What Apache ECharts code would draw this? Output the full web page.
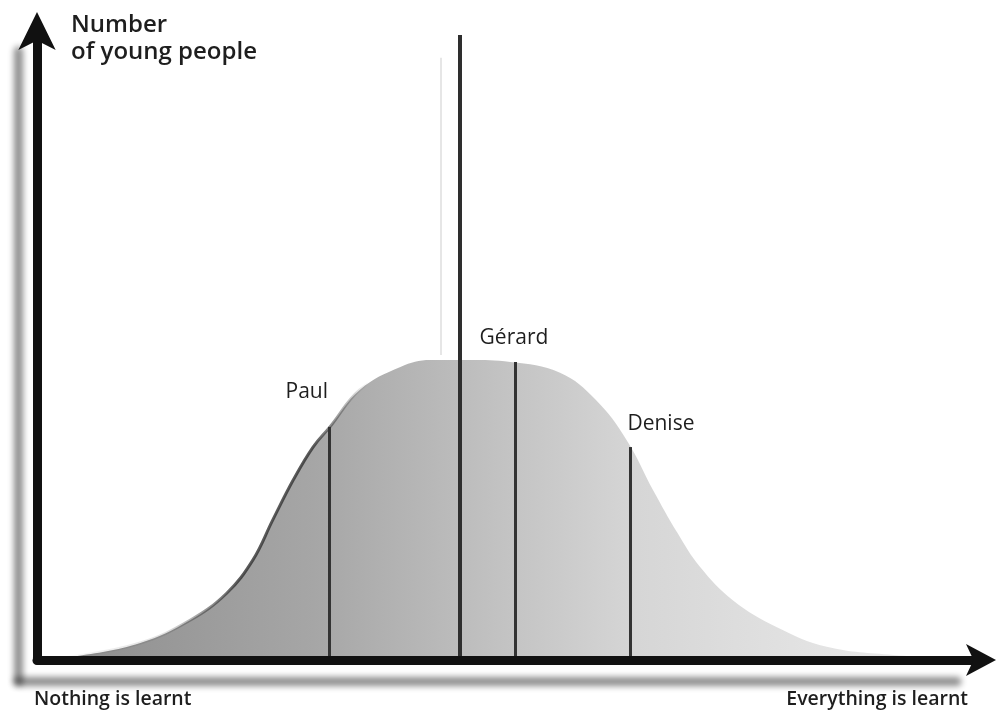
<!DOCTYPE html>
<html>
<head>
<meta charset="utf-8">
<script src="https://cdn.jsdelivr.net/npm/echarts@6/dist/echarts.min.js"></script>
<style>
  html, body { margin: 0; padding: 0; background: #fff; }
  #main { width: 996px; height: 716px; }
</style>
</head>
<body>
<div id="main"></div>
<script>
// curve: how much is learnt (0-100) vs number of young people (0-100)
var learnt = [0, 3.8, 11.0, 16.3, 20.2, 23.0, 25.1, 27.3, 29.4, 31.2, 34.4, 38.7, 41.9, 46.1, 50.4, 55.7, 59.5, 62.8, 65.6, 68.2, 70.6, 74.1, 78.8, 84.1, 91.2, 98.3];
var people = [0, 0.5, 2.7, 6.3, 10.6, 15.9, 22.2, 28.6, 33.8, 37.0, 42.9, 46.5, 47.6, 47.6, 47.3, 45.6, 41.3, 34.9, 27.0, 20.2, 14.8, 9.5, 5.2, 2.1, 0.8, 0.2];

// pupils marked on the curve
var names = ['Paul', 'Gérard', 'Denise'];
var namesX = [31.1, 50.9, 63.2];
var namesTop = [37.0, 47.3, 33.8];

// tall line in the middle and its faint shadow
var meanX = 45.0;
var meanTop = 99.2;
var ghostX = 43.0;
var ghostRange = [48.4, 95.6];

var yTitle = ['Number', 'of young people'];
var xEnds = ['Nothing is learnt', 'Everything is learnt'];

var chart = echarts.init(document.getElementById('main'), null, { renderer: 'canvas' });

var curveData = learnt.map(function (x, i) { return [x, people[i]]; });

// label positions per pupil
var labelStyle = {
  'Paul':   { align: 'right', offset: [-1, -19] },
  'Gérard': { align: 'center', offset: [-1, -8] },
  'Denise': { align: 'left', offset: [-3, -8] }
};

var markLines = namesX.map(function (x, i) {
  return [{ coord: [x, 0] }, { coord: [x, namesTop[i]] }];
});
markLines.push([{ coord: [meanX, 0], lineStyle: { width: 4, color: '#2e2e2e' } }, { coord: [meanX, meanTop] }]);
markLines.push([{ coord: [ghostX, ghostRange[0]], lineStyle: { width: 2, color: '#e6e6e6' } }, { coord: [ghostX, ghostRange[1]] }]);

var axisShadow = {
  color: '#111',
  width: 9,
  shadowColor: 'rgba(0,0,0,0.45)',
  shadowBlur: 6,
  shadowOffsetX: -19,
  shadowOffsetY: 21
};

var option = {
  backgroundColor: '#fff',
  animation: false,
  grid: { left: 37, right: 20, top: 30, bottom: 56 },
  xAxis: {
    type: 'value', min: 0, max: 100, z: 5,
    axisLine: { show: true, onZero: false, symbol: ['none', 'arrow'], symbolSize: [24, 30], symbolOffset: [0, 20], lineStyle: axisShadow },
    axisTick: { show: false }, axisLabel: { show: false }, splitLine: { show: false }
  },
  yAxis: {
    type: 'value', min: 0, max: 100, z: 5,
    axisLine: { show: true, onZero: false, symbol: ['none', 'arrow'], symbolSize: [28, 38], symbolOffset: [0, 18], lineStyle: axisShadow },
    axisTick: { show: false }, axisLabel: { show: false }, splitLine: { show: false }
  },
  series: [
    {
      type: 'line',
      data: curveData,
      smooth: 0.4,
      symbol: 'none',
      z: 2,
      lineStyle: {
        width: 3,
        color: new echarts.graphic.LinearGradient(0, 0, 1, 0, [
          { offset: 0, color: 'rgba(60,60,60,0)' },
          { offset: 0.14, color: 'rgba(60,60,60,0.15)' },
          { offset: 0.22, color: 'rgba(50,50,50,0.8)' },
          { offset: 0.3, color: 'rgba(50,50,50,0.8)' },
          { offset: 0.36, color: 'rgba(60,60,60,0)' },
          { offset: 1, color: 'rgba(60,60,60,0)' }
        ])
      },
      areaStyle: {
        opacity: 1,
        color: new echarts.graphic.LinearGradient(0, 0, 1, 0, [
          { offset: 0, color: '#8c8c8c' },
          { offset: 0.3, color: '#a6a6a6' },
          { offset: 0.5, color: '#c2c2c2' },
          { offset: 0.65, color: '#d6d6d6' },
          { offset: 1, color: '#ededed' }
        ])
      },
      markLine: {
        silent: true,
        symbol: ['none', 'none'],
        label: { show: false },
        lineStyle: { type: 'solid', width: 3, color: '#333' },
        data: markLines
      }
    },
    {
      type: 'scatter',
      symbolSize: 0,
      itemStyle: { color: 'rgba(0,0,0,0)' },
      z: 6,
      data: names.map(function (n, i) {
        return {
          name: n,
          value: [namesX[i], namesTop[i]],
          label: { align: labelStyle[n].align, offset: labelStyle[n].offset }
        };
      }),
      label: {
        show: true,
        position: 'top',
        formatter: '{b}',
        color: '#1e1e1e',
        opacity: 1,
        fontSize: 21,
        fontFamily: 'Open Sans',
        textBorderWidth: 0
      }
    }
  ],
  graphic: [
    {
      type: 'text', left: 71, top: 12,
      style: { text: yTitle.join('\n'), fill: '#1e1e1e', font: '600 24px "Open Sans"', lineHeight: 27 }
    },
    {
      type: 'text', left: 34, top: 689,
      style: { text: xEnds[0], fill: '#1e1e1e', font: '600 19.5px "Open Sans"' }
    },
    {
      type: 'text', right: 28, top: 689,
      style: { text: xEnds[1], fill: '#1e1e1e', font: '600 19.5px "Open Sans"' }
    }
  ]
};

chart.setOption(option);
</script>
</body>
</html>
